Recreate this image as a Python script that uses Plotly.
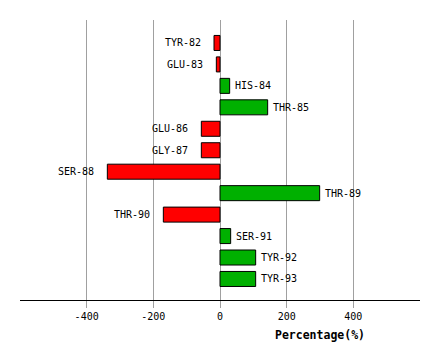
import plotly.graph_objects as go

residues = ["TYR-82", "GLU-83", "HIS-84", "THR-85", "GLU-86", "GLY-87",
            "SER-88", "THR-89", "THR-90", "SER-91", "TYR-92", "TYR-93"]
values = [-18, -11, 29, 143, -56, -56, -338, 299, -170, 32, 107, 107]
tick_vals = [-400, -200, 0, 200, 400]

RED = "#FF0000"
GREEN = "#00B000"
colors = [GREEN if v > 0 else RED for v in values]

fig = go.Figure()
fig.add_trace(go.Bar(
    x=values, y=residues, orientation="h",
    marker=dict(color=colors, line=dict(color="black", width=1)),
    width=0.7, showlegend=False, hoverinfo="x+y",
))

font_mono = "DejaVu Sans Mono"
for r, v in zip(residues, values):
    fig.add_annotation(
        x=v, y=r, text=r, showarrow=False,
        xanchor="left" if v > 0 else "right",
        xshift=3 if v > 0 else -11,
        font=dict(family=font_mono, size=10, color="black"),
    )

fig.add_annotation(
    x=0.75, y=0, xref="paper", yref="paper", yshift=-35,
    xanchor="center", yanchor="middle",
    text="<b>Percentage(%)</b>", showarrow=False,
    font=dict(family=font_mono, size=11.5, color="black"),
)

fig.update_layout(
    width=432, height=352,
    margin=dict(l=12, r=20, t=12, b=60),
    paper_bgcolor="white", plot_bgcolor="white",
    xaxis=dict(
        range=[-600, 600], tickvals=tick_vals,
        ticktext=[str(t) for t in tick_vals],
        showgrid=True, gridcolor="#A0A0A0", gridwidth=1,
        zeroline=True, zerolinecolor="#A0A0A0", zerolinewidth=1,
        ticks="outside", ticklen=7, tickcolor="#A0A0A0",
        showline=True, linecolor="black", linewidth=1,
        tickfont=dict(family=font_mono, size=10, color="black"),
        fixedrange=True,
    ),
    yaxis=dict(
        type="category", categoryorder="array", categoryarray=residues,
        range=[11.98, -1.07],
        showticklabels=False, showgrid=False, zeroline=False, showline=False,
        ticks="", fixedrange=True,
    ),
)

fig.write_html("out.html")
